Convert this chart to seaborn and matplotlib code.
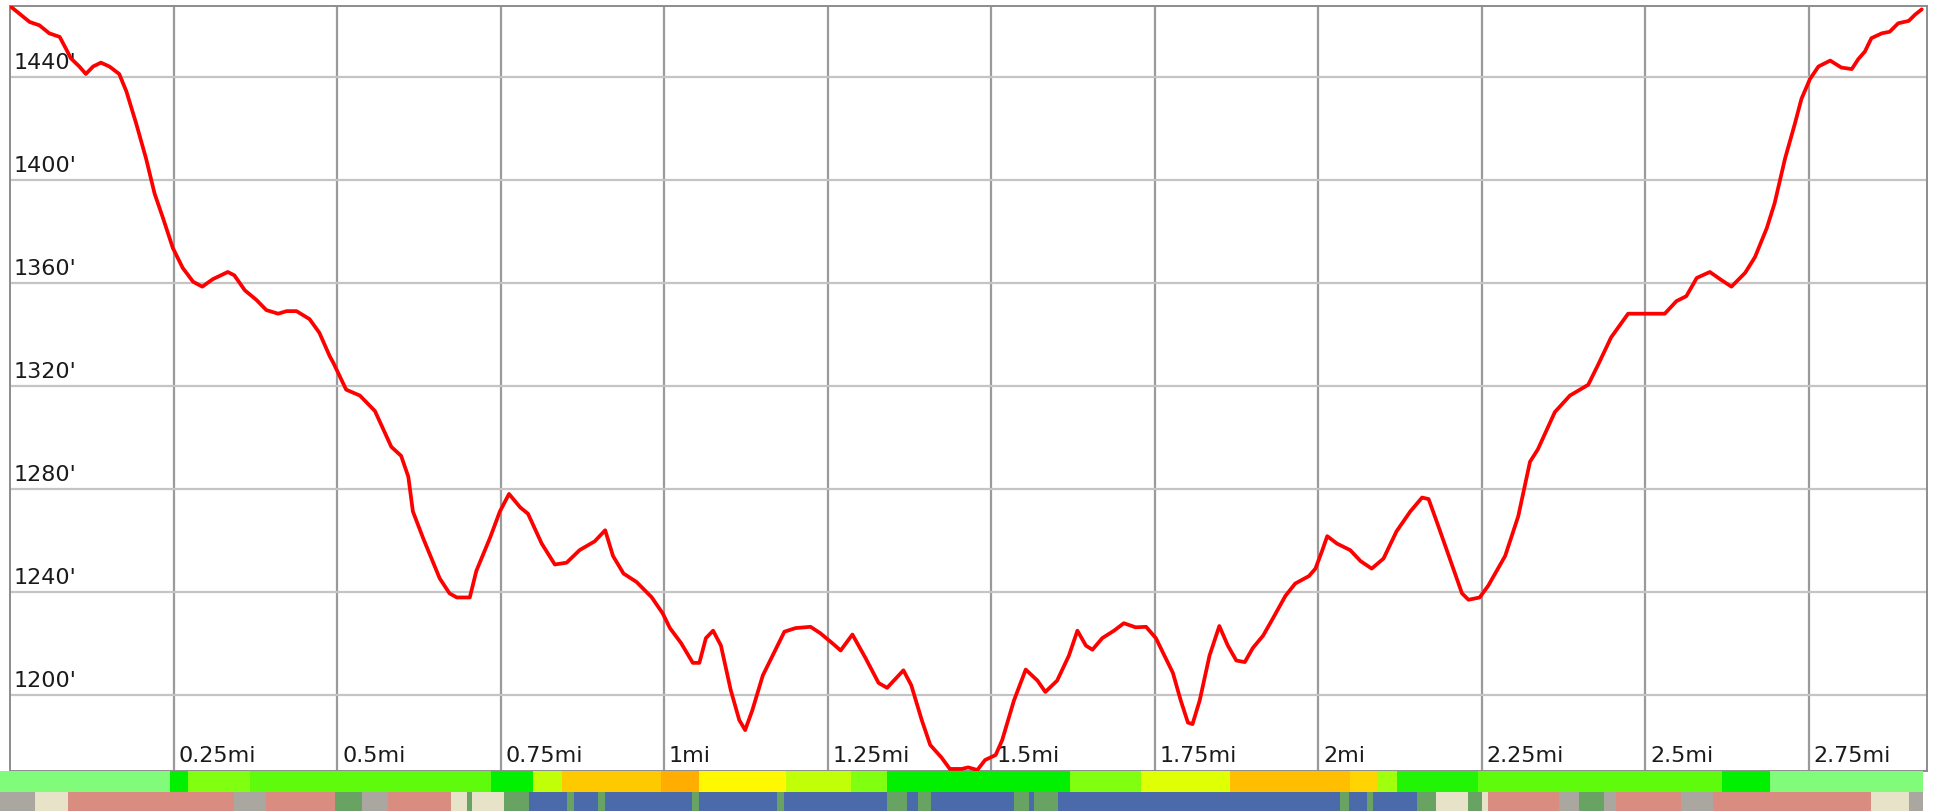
import numpy as np
import pandas as pd
import matplotlib
matplotlib.use("Agg")
import matplotlib.pyplot as plt
from matplotlib.colors import LinearSegmentedColormap
import seaborn as sns

# ------------------------------------------------------
# data
# ------------------------------------------------------
dist_mi = [0.000, 0.030, 0.045, 0.060, 0.076, 0.086, 0.093, 0.106, 0.116, 0.127,
           0.139, 0.152, 0.167, 0.178, 0.193, 0.208, 0.221, 0.234, 0.249, 0.264,
           0.280, 0.294, 0.310, 0.333, 0.343, 0.359, 0.377, 0.392, 0.410, 0.423,
           0.438, 0.458, 0.473, 0.489, 0.494, 0.514, 0.535, 0.558, 0.583, 0.598,
           0.609, 0.616, 0.632, 0.657, 0.672, 0.683, 0.703, 0.713, 0.734, 0.749,
           0.763, 0.780, 0.792, 0.813, 0.833, 0.851, 0.871, 0.894, 0.910, 0.922,
           0.938, 0.958, 0.981, 0.998, 1.009, 1.026, 1.044, 1.054, 1.064, 1.075,
           1.087, 1.102, 1.115, 1.124, 1.135, 1.151, 1.166, 1.184, 1.201, 1.224,
           1.239, 1.257, 1.270, 1.288, 1.308, 1.328, 1.341, 1.366, 1.378, 1.394,
           1.407, 1.424, 1.437, 1.455, 1.465, 1.479, 1.491, 1.507, 1.517, 1.535,
           1.553, 1.571, 1.583, 1.601, 1.619, 1.632, 1.645, 1.655, 1.670, 1.688,
           1.703, 1.721, 1.737, 1.752, 1.778, 1.790, 1.801, 1.808, 1.819, 1.834,
           1.849, 1.862, 1.875, 1.888, 1.900, 1.916, 1.931, 1.950, 1.965, 1.986,
           1.996, 2.006, 2.014, 2.029, 2.049, 2.065, 2.082, 2.100, 2.120, 2.141,
           2.159, 2.169, 2.184, 2.204, 2.220, 2.230, 2.247, 2.260, 2.286, 2.306,
           2.324, 2.336, 2.362, 2.385, 2.413, 2.428, 2.448, 2.474, 2.499, 2.530,
           2.548, 2.563, 2.579, 2.599, 2.617, 2.632, 2.653, 2.668, 2.686, 2.698,
           2.714, 2.729, 2.739, 2.752, 2.765, 2.783, 2.800, 2.816, 2.826, 2.836,
           2.846, 2.862, 2.874, 2.887, 2.903, 2.913, 2.923]
elev_ft = [1467.4, 1461.2, 1459.9, 1456.8, 1455.4, 1450.6, 1447.1, 1443.9, 1441.0, 1443.9,
           1445.4, 1443.9, 1441.0, 1434.2, 1421.7, 1408.2, 1394.6, 1385.0, 1373.4, 1365.7,
           1360.3, 1358.4, 1361.3, 1364.1, 1362.8, 1357.0, 1353.2, 1349.3, 1347.9, 1348.9,
           1348.9, 1345.8, 1340.5, 1331.3, 1329.0, 1318.4, 1316.1, 1310.1, 1296.2, 1292.7,
           1284.6, 1271.1, 1260.5, 1245.1, 1239.3, 1237.7, 1237.7, 1248.0, 1260.9, 1271.1,
           1277.9, 1272.7, 1270.2, 1258.6, 1250.5, 1251.2, 1256.1, 1259.5, 1263.8, 1253.8,
           1247.0, 1243.7, 1237.8, 1231.5, 1225.8, 1220.0, 1212.3, 1212.3, 1221.9, 1224.8,
           1219.0, 1201.7, 1190.1, 1186.2, 1193.9, 1207.4, 1215.1, 1224.4, 1225.8, 1226.3,
           1223.8, 1220.0, 1217.1, 1223.3, 1214.2, 1204.5, 1202.6, 1209.4, 1203.6, 1190.1,
           1180.4, 1175.6, 1171.1, 1171.1, 1171.7, 1170.7, 1174.6, 1176.5, 1182.3, 1197.7,
           1209.7, 1205.4, 1201.0, 1205.4, 1215.1, 1224.8, 1219.0, 1217.4, 1221.9, 1224.8,
           1227.7, 1226.1, 1226.3, 1221.9, 1208.4, 1197.7, 1189.1, 1188.5, 1197.7, 1215.1,
           1226.6, 1219.0, 1213.2, 1212.6, 1218.0, 1222.9, 1229.6, 1238.3, 1243.1, 1246.0,
           1248.9, 1255.7, 1261.5, 1258.6, 1256.1, 1251.8, 1248.9, 1252.8, 1263.4, 1271.1,
           1276.5, 1275.9, 1265.3, 1250.8, 1239.3, 1236.8, 1237.7, 1242.2, 1253.8, 1269.2,
           1290.4, 1295.2, 1309.7, 1316.1, 1320.3, 1328.0, 1338.7, 1347.9, 1347.9, 1347.9,
           1352.8, 1354.7, 1361.8, 1364.1, 1360.9, 1358.4, 1363.8, 1369.9, 1381.1, 1390.8,
           1408.2, 1421.7, 1431.3, 1439.0, 1443.9, 1446.2, 1443.5, 1442.9, 1446.8, 1449.7,
           1454.9, 1456.8, 1457.4, 1460.7, 1461.6, 1464.1, 1466.1]

elev_ticks = [1200, 1240, 1280, 1320, 1360, 1400, 1440]
dist_ticks = [0.25, 0.5, 0.75, 1.0, 1.25, 1.5, 1.75, 2.0, 2.25, 2.5, 2.75]
dist_labels = ["0.25mi", "0.5mi", "0.75mi", "1mi", "1.25mi", "1.5mi",
               "1.75mi", "2mi", "2.25mi", "2.5mi", "2.75mi"]

# grade strip: segment start (mi) and a 0..1 steepness level
grade_start = [-0.016, 0.244, 0.272, 0.366, 0.735, 0.799, 0.843, 0.994, 1.053, 1.185,
               1.285, 1.340, 1.620, 1.728, 1.865, 2.048, 2.090, 2.120, 2.244, 2.616,
               2.690]
grade_level = [0.04, 0.20, 0.40, 0.35, 0.20, 0.50, 0.75, 0.85, 0.62, 0.50,
               0.40, 0.20, 0.40, 0.55, 0.78, 0.72, 0.45, 0.25, 0.35, 0.20,
               0.04]

# surface strip: segment start (mi) and surface type
surf_start = [-0.016, 0.037, 0.088, 0.342, 0.391, 0.496, 0.537, 0.577, 0.674, 0.698,
              0.706, 0.755, 0.793, 0.851, 0.862, 0.898, 0.909, 1.042, 1.053, 1.172,
              1.183, 1.340, 1.371, 1.388, 1.408, 1.534, 1.557, 1.565, 1.602, 2.033,
              2.047, 2.074, 2.083, 2.151, 2.180, 2.229, 2.250, 2.259, 2.368, 2.398,
              2.436, 2.455, 2.554, 2.603, 2.845, 2.903]
surf_type = ["gravel", "dirt", "paved", "gravel", "paved", "grass", "gravel", "paved", "dirt", "grass",
             "dirt", "grass", "water", "grass", "water", "grass", "water", "grass", "water", "grass",
             "water", "grass", "water", "grass", "water", "grass", "water", "grass", "water", "grass",
             "water", "grass", "water", "grass", "dirt", "grass", "dirt", "paved", "gravel", "grass",
             "gravel", "paved", "gravel", "paved", "dirt", "gravel"]
strip_end = 2.924

SURF_COLORS = {"gravel": "#a9a7a0", "dirt": "#e7e3c8", "paved": "#d98c80",
               "grass": "#69a363", "water": "#4a6aaa"}
grade_cmap = LinearSegmentedColormap.from_list(
    "grade", ["#a0ff98", "#00f000", "#80ff10", "#ffff00", "#ffb800", "#ff8c00"])

# ------------------------------------------------------
# figure
# ------------------------------------------------------
sns.set_style("white")
plt.rcParams["font.family"] = ["DejaVu Sans"]

W, H = 1935, 812
fig = plt.figure(figsize=(W / 100, H / 100), dpi=100)
ax = fig.add_axes([10 / W, 40 / H, 1917 / W, 765 / H])

df = pd.DataFrame({"dist": dist_mi, "elev": elev_ft})
sns.lineplot(data=df, x="dist", y="elev", ax=ax, color="#ff0000", linewidth=2.7, zorder=5)
for ln in ax.get_lines():
    ln.set_solid_joinstyle("round")
    ln.set_solid_capstyle("round")

ax.set_xlim(0, 2.931)
ax.set_ylim(1170.3, 1467.4)
ax.set_xticks(dist_ticks)
ax.set_yticks(elev_ticks)
ax.tick_params(length=0, labelbottom=False, labelleft=False)
ax.set_xlabel("")
ax.set_ylabel("")
ax.xaxis.grid(True, color="#9a9a9a", linewidth=1.6)
ax.yaxis.grid(True, color="#c4c4c4", linewidth=1.6)
ax.set_axisbelow(True)
for sp in ax.spines.values():
    sp.set_visible(True)
    sp.set_color("#8c8c8c")
    sp.set_linewidth(1.4)

for v in elev_ticks:
    ax.annotate(f"{v}'", xy=(0, v), xycoords=("axes fraction", "data"),
                xytext=(4, 5), textcoords="offset pixels",
                ha="left", va="bottom", fontsize=16, color="#1a1a1a")
for v, lab in zip(dist_ticks, dist_labels):
    ax.annotate(lab, xy=(v, 0), xycoords=("data", "axes fraction"),
                xytext=(5, 6), textcoords="offset pixels",
                ha="left", va="bottom", fontsize=16, color="#1a1a1a")

# grade strip
ax_g = fig.add_axes([0, 19 / H, 1923 / W, 21 / H])
g_edges = grade_start + [strip_end]
g_width = np.diff(g_edges)
ax_g.bar(grade_start, 1, width=g_width, align="edge",
         color=[grade_cmap(v) for v in grade_level], linewidth=0)
ax_g.set_xlim(-0.016, strip_end)
ax_g.set_ylim(0, 1)
ax_g.axis("off")

# surface strip
ax_s = fig.add_axes([0, 0, 1923 / W, 19 / H])
s_edges = surf_start + [strip_end]
s_width = np.diff(s_edges)
ax_s.bar(surf_start, 1, width=s_width, align="edge",
         color=[SURF_COLORS[t] for t in surf_type], linewidth=0)
ax_s.set_xlim(-0.016, strip_end)
ax_s.set_ylim(0, 1)
ax_s.axis("off")

fig.savefig("out.png", dpi=100)
